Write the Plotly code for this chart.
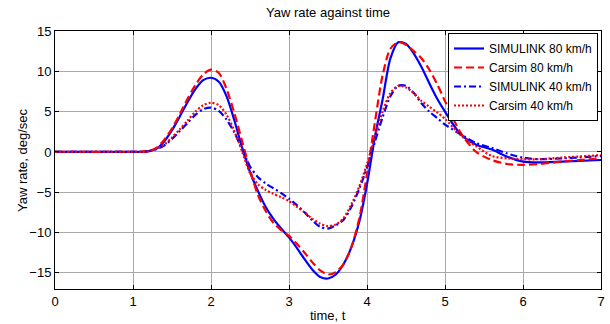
import plotly.graph_objects as go

t = [0, 0.5, 1.0, 1.1, 1.2, 1.3, 1.4, 1.5, 1.6, 1.7, 1.8, 1.9, 2.0, 2.1, 2.2, 2.3,
     2.4, 2.5, 2.6, 2.7, 2.8, 2.9, 3.0, 3.1, 3.2, 3.3, 3.4, 3.5, 3.6, 3.7, 3.8,
     3.9, 4.0, 4.1, 4.2, 4.3, 4.4, 4.5, 4.6, 4.7, 4.8, 4.9, 5.0, 5.2, 5.4, 5.6,
     5.8, 6.0, 6.2, 6.5, 7.0]

simulink_80 = [0, 0, 0, 0.02, 0.1, 0.4, 1.3, 2.7, 4.4, 6.2, 7.8, 8.9, 9.2, 8.7, 6.9, 3.9,
               0.5, -2.5, -4.8, -6.8, -8.3, -9.5, -10.6, -11.9, -13.3, -14.6, -15.5, -15.7, -15.2, -13.9, -11.8,
               -8.7, -4.0, 1.8, 6.5, 11.6, 13.6, 13.4, 12.2, 10.5, 8.5, 6.6, 5.0, 2.2, 0.9, 0.3,
               -0.6, -1.2, -1.3, -1.2, -1.0]

carsim_80 = [0, 0, 0, 0.02, 0.1, 0.5, 1.5, 2.9, 4.7, 6.6, 8.3, 9.6, 10.2, 9.8, 7.8, 4.8,
             1.3, -2.2, -5.3, -7.3, -8.8, -9.7, -10.4, -11.4, -12.5, -13.7, -14.7, -15.2, -14.9, -13.9, -11.8,
             -8.3, -2.7, 3.6, 9.5, 12.8, 13.6, 13.3, 12.5, 11.6, 10.2, 8.4, 6.3, 2.4, 0.0, -1.0,
             -1.5, -1.6, -1.5, -1.2, -0.8]

simulink_40 = [0, 0, 0, 0.02, 0.08, 0.35, 0.8, 1.6, 2.6, 3.6, 4.6, 5.3, 5.5, 5.1, 4.0, 2.4,
               0.3, -1.8, -3.1, -3.9, -4.5, -5.1, -5.8, -6.6, -7.5, -8.5, -9.3, -9.5, -9.1, -8.4, -6.8,
               -4.6, -1.9, 1.2, 4.3, 6.9, 8.2, 8.2, 7.3, 6.0, 5.0, 4.2, 3.4, 2.2, 1.1, 0.5,
               -0.2, -0.7, -0.9, -0.8, -0.5]

carsim_40 = [0, 0, 0, 0.02, 0.1, 0.4, 0.9, 1.8, 2.8, 3.9, 5.0, 5.8, 6.1, 5.8, 4.6, 2.6,
             0.0, -2.6, -4.0, -4.7, -5.2, -5.6, -6.1, -6.8, -7.5, -8.3, -8.9, -9.2, -9.0, -8.2, -6.5,
             -4.3, -1.5, 1.9, 5.0, 7.3, 8.2, 8.0, 7.3, 6.3, 5.6, 4.9, 4.1, 2.1, 0.7, -0.5,
             -0.8, -0.9, -0.9, -0.7, -0.4]

x_ticks = [0, 1, 2, 3, 4, 5, 6, 7]
y_ticks = [-15, -10, -5, 0, 5, 10, 15]

FONT = "Liberation Sans, Arial, sans-serif"

fig = go.Figure()
series = [
    ("SIMULINK 80 km/h", simulink_80, "#0000ff", "solid"),
    ("Carsim 80 km/h", carsim_80, "#ff0000", "8px,4px"),
    ("SIMULINK 40 km/h", simulink_40, "#0000ff", "7px,3px,2px,3px"),
    ("Carsim 40 km/h", carsim_40, "#ff0000", "2px,2px"),
]
for name, vals, col, dash in series:
    fig.add_trace(go.Scatter(
        x=t, y=vals, name=name, mode="lines",
        line=dict(color=col, width=2.2, dash=dash, shape="spline", smoothing=0.8),
    ))

axis_common = dict(
    showline=True, linecolor="black", linewidth=1, mirror="ticks",
    ticks="inside", ticklen=4, tickcolor="black",
    showgrid=True, gridcolor="#a8a8a8", gridwidth=1,
    zeroline=False, automargin=False,
    tickfont=dict(family=FONT, size=13, color="black"),
)

fig.update_xaxes(range=[0, 7], tickvals=x_ticks, **axis_common)
fig.update_yaxes(range=[-17, 15], tickvals=y_ticks, **axis_common)

fig.add_annotation(text="Yaw rate, deg/sec", xref="paper", yref="paper",
                   x=(22 - 55) / 546, y=0.5, xanchor="center", yanchor="middle",
                   textangle=-90, showarrow=False,
                   font=dict(family=FONT, size=13, color="black"))
fig.add_annotation(text="time, t", xref="paper", yref="paper",
                   x=0.5, y=(289 - 315) / 258, xanchor="center", yanchor="middle",
                   showarrow=False,
                   font=dict(family=FONT, size=13, color="black"))

fig.update_layout(
    width=610, height=324,
    margin=dict(l=55, r=9, t=31, b=35, autoexpand=False),
    paper_bgcolor="white", plot_bgcolor="white",
    title=dict(text="Yaw rate against time", x=(55 + 601) / 2 / 610, xanchor="center",
               y=1 - 12 / 324, yanchor="middle",
               font=dict(family=FONT, size=13, color="black")),
    showlegend=True,
    legend=dict(
        x=1 - 3 / 546, xanchor="right", y=1 - 2 / 258, yanchor="top",
        bgcolor="white", bordercolor="black", borderwidth=1,
        font=dict(family=FONT, size=12, color="black"),
        tracegroupgap=0, itemwidth=30,
    ),
)

fig.write_html("out.html")
